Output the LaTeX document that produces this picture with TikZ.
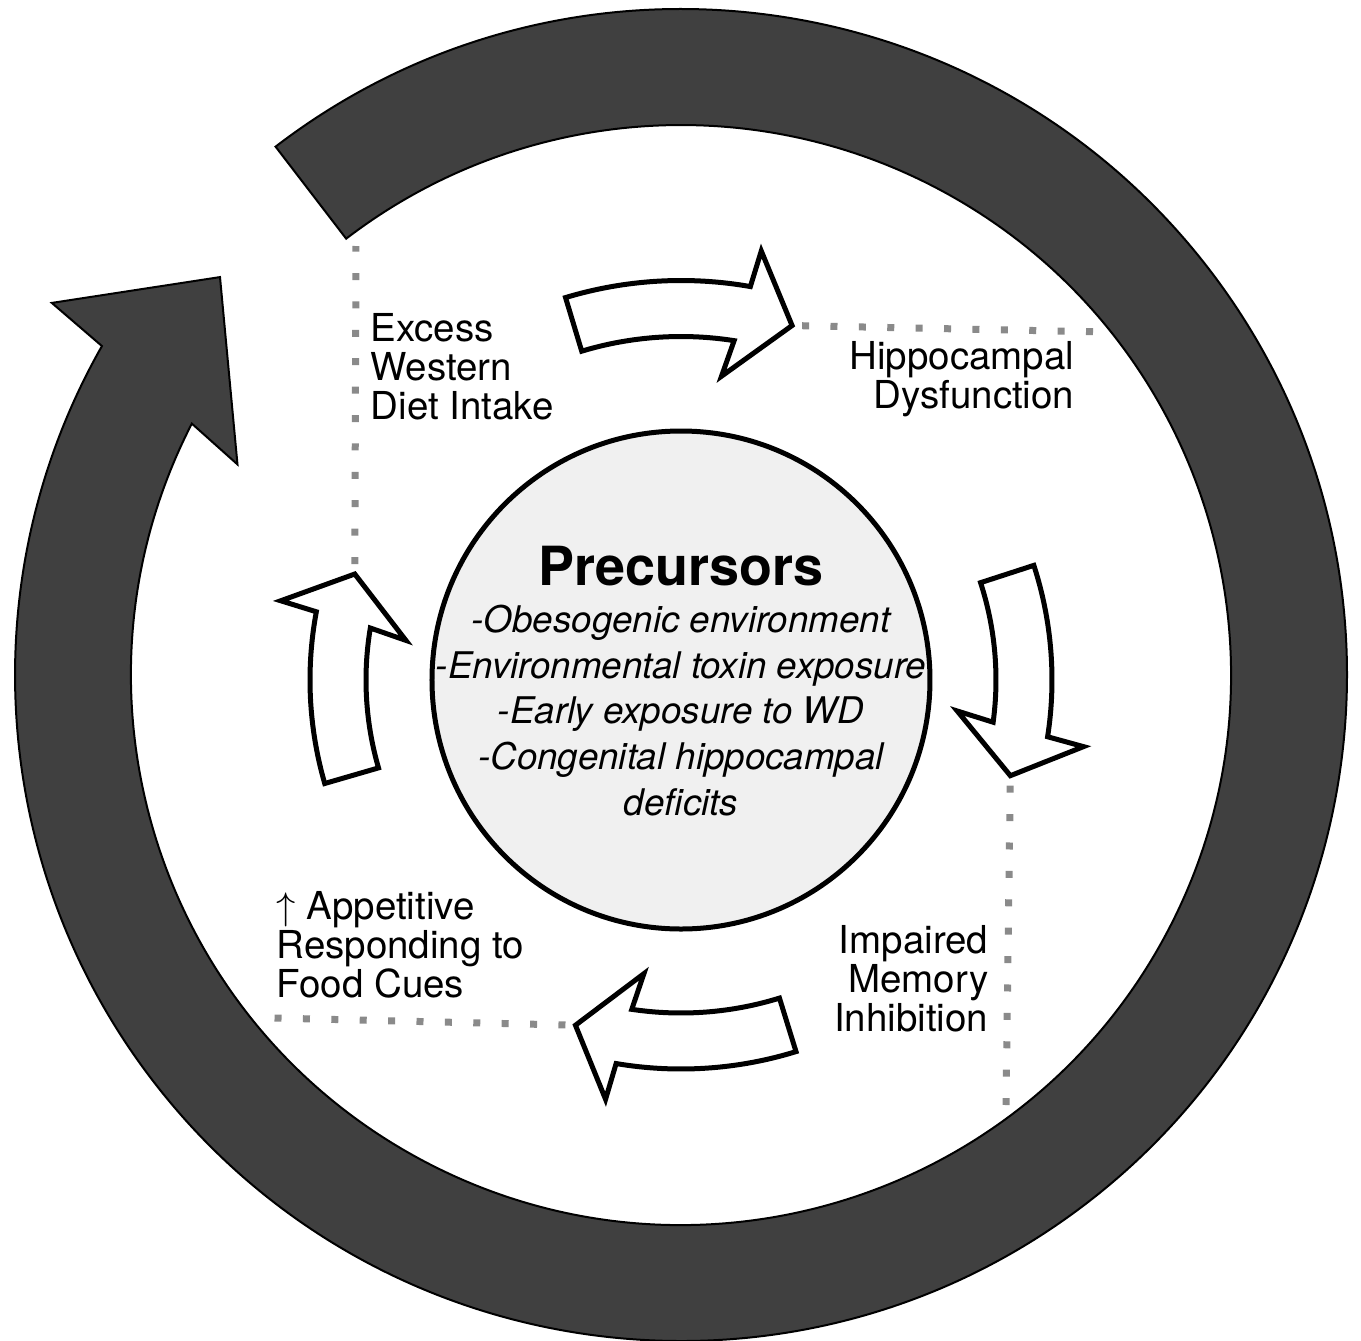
\documentclass[tikz,border=0pt]{standalone}
\usepackage{fontspec}
\setmainfont{TeX Gyre Heros}
\usepackage{tikz}
\usetikzlibrary{positioning}
\definecolor{ringgray}{RGB}{64,64,64}
\definecolor{hubgray}{RGB}{240,240,240}
\definecolor{dotgray}{RGB}{138,138,138}

% hollow bent arrow round the hub: mid radius, tail angle, name of its tip
\newcommand{\bentarrow}[3]{%
  \draw[hollow] ({#2}:{#1+28}) arc[start angle={#2}, end angle={#2-26.8}, radius={#1+28}]
    -- ({#2-27.4}:{#1+65}) -- ({#2-34.2}:{#1}) coordinate (#3)
    -- ({#2-24.4}:{#1-65}) -- ({#2-25.7}:{#1-28})
    arc[start angle={#2-25.7}, end angle={#2}, radius={#1-28}] -- cycle;}

\begin{document}
\begin{tikzpicture}[
    x=0.1mm, y=0.1mm,
    ring/.style={fill=ringgray, draw=black, line width=0.2mm},
    hollow/.style={fill=white, draw=black, line width=0.5mm},
    guide/.style={draw=dotgray, line width=0.7mm, dash pattern=on 0.7mm off 2.14mm, shorten <=1mm},
    hub/.style={circle, draw=black, line width=0.5mm, fill=hubgray, minimum size=49.8mm, inner sep=0pt},
    stage/.style={inner sep=0pt, font=\fontsize{10.95}{11.1}\selectfont}
  ]
    \useasboundingbox (-681,-660) rectangle (680,680);

    % big cycle arrow
    \begin{scope}[shift={(0,5)}]
      \draw[ring] (127.5:666) arc[start angle=127.5, end angle=-209.6, radius=666]
        -- (149.4:731) -- (139.2:609) -- (154.6:491) -- (-207.2:550)
        arc[start angle=-207.2, end angle=127.5, radius=550] -- cycle;
    \end{scope}

    % inner arrows
    \bentarrow{371.5}{106.8}{toptip}
    \bentarrow{343}{18}{righttip}
    \bentarrow{361}{-72.8}{bottomtip}
    \bentarrow{343}{196.2}{lefttip}

    % dotted dividers
    \coordinate (dietedge) at (-325,434);
    \coordinate (dysedge)  at (425,348);
    \coordinate (memedge)  at (325,-425);
    \coordinate (appedge)  at (-408,-338);
    \draw[guide] (lefttip)   -- (dietedge);
    \draw[guide] (toptip)    -- (dysedge);
    \draw[guide] (righttip)  -- (memedge);
    \draw[guide] (bottomtip) -- (appedge);

    % hub
    \node[hub] (hub) at (0,0) {};
    \node[inner sep=0pt, anchor=base, font=\fontsize{15.35}{18}\selectfont\bfseries] (title) at (0,95) {Precursors};
    \node[inner sep=0pt, align=center, font=\fontsize{10.45}{13}\selectfont\itshape] (causes) [below=1.8mm of title]
      {-Obesogenic environment\\-Environmental toxin exposure\\-Early exposure to WD\\-Congenital hippocampal\\deficits};

    % stage labels
    \node[stage, align=left,  anchor=north west] (diet)   at (-311,367)  {Excess\\Western\\Diet Intake};
    \node[stage, align=right, anchor=north east] (dysfun) at (394,339)   {Hippocampal\\Dysfunction};
    \node[stage, align=right, anchor=north east] (memory) at (308,-245)  {Impaired\\Memory\\Inhibition};
    \node[stage, align=left,  anchor=north west] (appet)  at (-405,-211) {$\uparrow$ Appetitive\\Responding to\\Food Cues};
\end{tikzpicture}
\end{document}
